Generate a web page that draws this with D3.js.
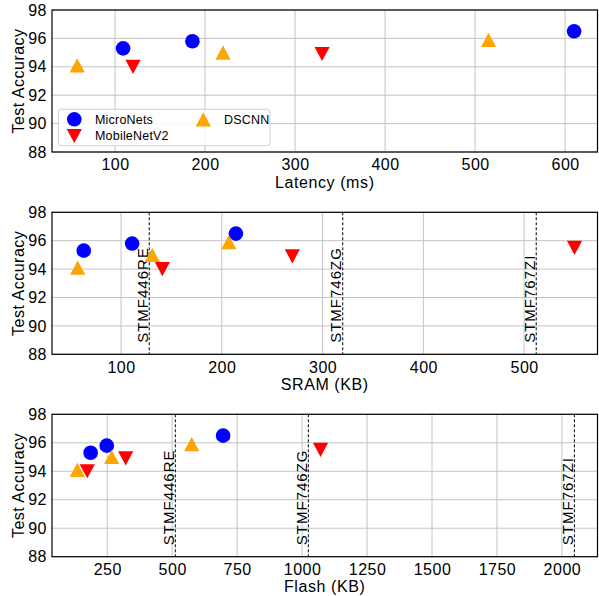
<!DOCTYPE html>
<html><head><meta charset="utf-8">
<script src="https://cdn.jsdelivr.net/npm/d3@7"></script>
<style>body{margin:0;background:#fff}svg{display:block}</style>
</head><body>
<script>
// ---- data ----
const series = ["MicroNets", "MobileNetV2", "DSCNN"];
const accMicroNets = [95.3, 95.8, 96.5];
const accMobileNetV2 = [94.0, 94.9, 95.5];
const accDSCNN = [94.1, 95.0, 95.9];
const latMicroNets = [109, 186, 610];
const latMobileNetV2 = [120, 330, null];
const latDSCNN = [58, 220, 515];
const sramMicroNets = [63, 111, 214];
const sramMobileNetV2 = [141, 270, 550];
const sramDSCNN = [57, 131, 207];
const flashMicroNets = [186, 248, 696];
const flashMobileNetV2 = [173, 321, 1071];
const flashDSCNN = [135, 267, 575];
const boardNames = ["STMF446RE", "STMF746ZG", "STMF767ZI"];
const boardSRAM = [128, 320, 512];
const boardFlash = [512, 1024, 2048];
const yTicks = [88, 90, 92, 94, 96, 98];
const latTicks = [100, 200, 300, 400, 500, 600];
const sramTicks = [100, 200, 300, 400, 500];
const flashTicks = [250, 500, 750, 1000, 1250, 1500, 1750, 2000];

const W = 599, H = 596;
const svg = d3.select("body").append("svg").attr("width", W).attr("height", H);
const FONT = "'Liberation Sans', Arial, sans-serif";
const colors = {MicroNets: "#0000ff", MobileNetV2: "#ff0000", DSCNN: "#ffa500"};
const shapes = {MicroNets: "circle", MobileNetV2: "down", DSCNN: "up"};

function marker(g, kind, x, y, color) {
  if (kind === "circle") {
    g.append("circle").attr("cx", x).attr("cy", y).attr("r", 7.3).attr("fill", color);
  } else {
    const w = 7.6, h = 7.1;
    const pts = kind === "up"
      ? [[x, y - h], [x - w, y + h], [x + w, y + h]]
      : [[x, y + h], [x - w, y - h], [x + w, y - h]];
    g.append("path").attr("d", d3.line()(pts) + "Z").attr("fill", color);
  }
}

const panels = [
  {top: 10, bottom: 152, domain: [30, 636], ticks: latTicks, label: "Latency (ms)",
   xs: {MicroNets: latMicroNets, MobileNetV2: latMobileNetV2, DSCNN: latDSCNN}, boards: null, legend: true},
  {top: 212.3, bottom: 354.3, domain: [31.5, 572.8], ticks: sramTicks, label: "SRAM (KB)",
   xs: {MicroNets: sramMicroNets, MobileNetV2: sramMobileNetV2, DSCNN: sramDSCNN}, boards: boardSRAM},
  {top: 414.3, bottom: 556.7, domain: [37.3, 2137], ticks: flashTicks, label: "Flash (KB)",
   xs: {MicroNets: flashMicroNets, MobileNetV2: flashMobileNetV2, DSCNN: flashDSCNN}, boards: boardFlash}
];
const accs = {MicroNets: accMicroNets, MobileNetV2: accMobileNetV2, DSCNN: accDSCNN};
const left = 52, right = 597.5;

panels.forEach(p => {
  const x = d3.scaleLinear().domain(p.domain).range([left, right]);
  const y = d3.scaleLinear().domain([88, 98]).range([p.bottom, p.top]);
  const g = svg.append("g");
  // grid
  g.selectAll(null).data(p.ticks).enter().append("line")
    .attr("x1", d => x(d)).attr("x2", d => x(d)).attr("y1", p.top).attr("y2", p.bottom)
    .attr("stroke", "#c4c4c4").attr("stroke-width", 1);
  g.selectAll(null).data(yTicks).enter().append("line")
    .attr("x1", left).attr("x2", right).attr("y1", d => y(d)).attr("y2", d => y(d))
    .attr("stroke", "#c4c4c4").attr("stroke-width", 1);
  // axes (labels only)
  const xa = g.append("g").attr("transform", `translate(0,${p.bottom})`)
    .call(d3.axisBottom(x).tickValues(p.ticks).tickSize(0).tickPadding(5.5).tickFormat(d3.format("d")));
  xa.select(".domain").remove();
  xa.selectAll("text").attr("font-family", FONT).attr("font-size", 16).attr("letter-spacing", 0.5).attr("fill", "#000").attr("dy", "0.8em");
  const ya = g.append("g").attr("transform", `translate(${left},0)`)
    .call(d3.axisLeft(y).tickValues(yTicks).tickSize(0).tickPadding(5));
  ya.select(".domain").remove();
  ya.selectAll("text").attr("font-family", FONT).attr("font-size", 16).attr("letter-spacing", 0.5).attr("fill", "#000");
  // board lines
  if (p.boards) {
    p.boards.forEach((b, i) => {
      g.append("line").attr("x1", x(b)).attr("x2", x(b)).attr("y1", p.top).attr("y2", p.bottom)
        .attr("stroke", "#000").attr("stroke-width", 1).attr("stroke-dasharray", "3,2");
      g.append("text").attr("transform", `translate(${x(b) - 1.5},${p.bottom - 11.5}) rotate(-90)`)
        .attr("font-family", FONT).attr("font-size", 15).attr("letter-spacing", 1).text(boardNames[i]);
    });
  }
  // markers
  series.forEach(s => {
    p.xs[s].forEach((v, i) => {
      if (v == null) return;
      marker(g, shapes[s], x(v), y(accs[s][i]), colors[s]);
    });
  });
  // frame
  g.append("rect").attr("x", left).attr("y", p.top).attr("width", right - left).attr("height", p.bottom - p.top)
    .attr("fill", "none").attr("stroke", "#000").attr("stroke-width", 1.2);
  // labels
  g.append("text").attr("x", (left + right) / 2).attr("y", p.bottom + 35.5).attr("text-anchor", "middle")
    .attr("font-family", FONT).attr("font-size", 16).attr("letter-spacing", 0.6).text(p.label);
  g.append("text").attr("transform", `translate(23.5,${(p.top + p.bottom) / 2}) rotate(-90)`).attr("text-anchor", "middle")
    .attr("font-family", FONT).attr("font-size", 16).attr("letter-spacing", 0.5).text("Test Accuracy");
  // legend
  if (p.legend) {
    const lg = g.append("g");
    lg.append("rect").attr("x", 58.3).attr("y", 109.3).attr("width", 211.7).attr("height", 36.4).attr("rx", 2.5)
      .attr("fill", "#fff").attr("fill-opacity", 0.85).attr("stroke", "#d0d0d0").attr("stroke-width", 1);
    const items = [
      {s: "MicroNets", mx: 74.3, my: 119.3, tx: 95},
      {s: "MobileNetV2", mx: 74.3, my: 136, tx: 95},
      {s: "DSCNN", mx: 203.3, my: 119.3, tx: 224}
    ];
    items.forEach(it => {
      marker(lg, shapes[it.s], it.mx, it.my, colors[it.s]);
      lg.append("text").attr("x", it.tx).attr("y", it.my + 4.3).attr("font-family", FONT)
        .attr("font-size", 12.5).attr("letter-spacing", 0.2).text(it.s);
    });
  }
});
</script>
</body></html>
